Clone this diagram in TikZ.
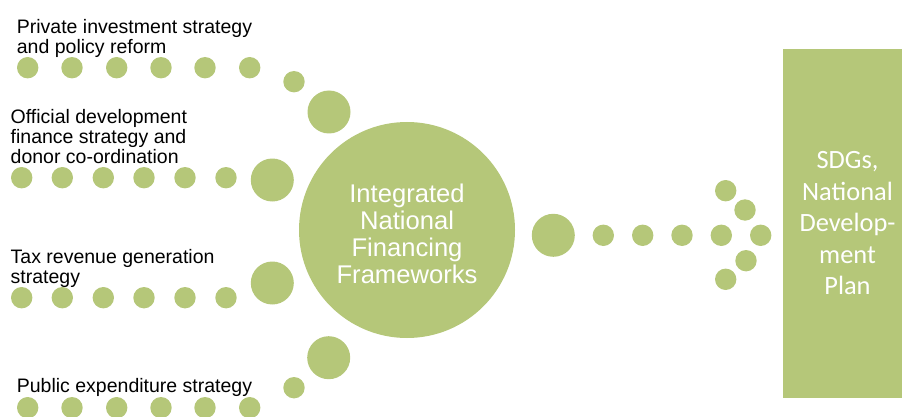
\documentclass[tikz,border=0pt]{standalone}
\usepackage{fontspec}
\setmainfont{Liberation Sans}
\newfontfamily\boxfont{Carlito}
\definecolor{leaf}{RGB}{181,199,121}
\begin{document}
\begin{tikzpicture}[x=1pt,y=-1pt,
  dot/.style={circle,fill=leaf,inner sep=0pt,minimum size=21.4pt},
  bigdot/.style={circle,fill=leaf,inner sep=0pt,minimum size=43pt},
  lbl/.style={anchor=north west,inner sep=0pt,align=left,font=\fontsize{19.5}{20}\selectfont},
]
\useasboundingbox (0,0) rectangle (902,417);

% left labels
\node[lbl] (l1) at (16.7,19) {Private investment strategy\\and policy reform};
\node[lbl] (l2) at (10.5,109) {Official development\\finance strategy and\\donor co-ordination};
\node[lbl] (l3) at (10.5,249.3) {Tax revenue generation\\strategy};
\node[lbl] (l4) at (16.7,377.7) {Public expenditure strategy};

% dotted rows
\foreach \x [count=\i] in {27.7,72,116.7,161,205,249.7}{
  \node[dot] (a\i) at (\x,67.7) {};
  \node[dot] (d\i) at (\x,407.7) {};
}
\foreach \x [count=\i] in {21.7,62.3,103.3,144,185,226}{
  \node[dot] (b\i) at (\x,177.7) {};
  \node[dot] (c\i) at (\x,297.7) {};
}
\node[dot] (a7) at (294,81.7) {};
\node[bigdot] (a8) at (329,112) {};
\node[bigdot] (b7) at (272.3,180) {};
\node[bigdot] (c7) at (272.3,283) {};
\node[bigdot] (d8) at (328.7,357.7) {};
\node[dot] (d7) at (294,387.7) {};

% central circle
\node[circle,fill=leaf,inner sep=0pt,minimum size=216pt] (inff) at (407,230) {};
\node[anchor=north,inner sep=0pt,align=center,text=white,
      font=\fontsize{25.6}{27.3}\selectfont] (infftext) at (407,183.3)
  {Integrated\\National\\Financing\\Frameworks};

% outgoing arrow of dots
\node[bigdot] (r0) at (553.3,235.3) {};
\foreach \x [count=\i] in {603.3,642.7,682,721.3,760.7}{
  \node[dot] (r\i) at (\x,235.3) {};
}
\node[dot] (h1) at (725.7,190.7) {};
\node[dot] (h2) at (745,210) {};
\node[dot] (h3) at (746,260.7) {};
\node[dot] (h4) at (725.7,279.3) {};

% target box
\node[rectangle,fill=leaf,inner sep=0pt,minimum width=119.3pt,minimum height=348.7pt] (plan)
  at (842.5,223.3) {};
\node[inner sep=0pt,text=white,align=center,font=\boxfont\fontsize{26.4}{31.5}\selectfont,
      xshift=5pt] (plantext) at (plan.center) {SDGs,\\National\\Develop-\\ment\\Plan};
\end{tikzpicture}
\end{document}
